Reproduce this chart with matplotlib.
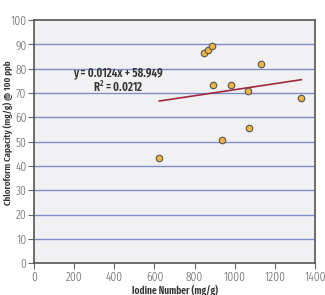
import numpy as np
import matplotlib.pyplot as plt

# data
iodine = [624, 847, 868, 885, 890, 937, 981, 1065, 1070, 1131, 1332]
capacity = [43.2, 86.5, 87.6, 89.3, 73.3, 50.6, 73.3, 70.9, 55.7, 81.8, 68.0]
slope = 0.0124
intercept = 58.949
fit_label = "y = 0.0124x + 58.949\nR$^2$ = 0.0212"

plt.rcParams['font.family'] = ['Fira Sans Extra Condensed', 'DejaVu Sans']
plt.rcParams['mathtext.default'] = 'regular'

fig = plt.figure(figsize=(3.25, 2.95), dpi=100)
ax = fig.add_axes([0.105, 0.108, 0.864, 0.824])
ax.set_facecolor('#f1f1f3')

for y in range(10, 100, 10):
    ax.axhline(y, color='#7f8cc8', lw=1.0, zorder=1)

xs = np.array([min(iodine), max(iodine)])
ax.plot(xs, slope * xs + intercept, color='#a0283c', lw=1.2, zorder=2)
ax.scatter(iodine, capacity, s=22, color='#f0b63c', edgecolor='#555555',
           linewidth=0.8, zorder=3)

ax.text(419, 75, fit_label, ha='center', va='center', fontsize=8.5,
        fontweight=600, color='#333333', linespacing=1.05)

ax.set_xlim(0, 1400)
ax.set_ylim(0, 100)
ax.set_xticks(range(0, 1401, 200))
ax.set_yticks(range(0, 101, 10))
ax.tick_params(labelsize=9, colors='#666666', length=4, width=0.8, pad=1.5)
for lab in ax.get_xticklabels() + ax.get_yticklabels():
    lab.set_fontweight(300)
for s in ax.spines.values():
    s.set_color('#555555')
    s.set_linewidth(1.2)

ax.set_xlabel('Iodine Number (mg/g)', fontsize=7.4, fontweight=600,
              color='#333333')
ax.xaxis.set_label_coords(0.5, -0.088)
ax.set_ylabel('Chloroform Capacity (mg/g) @ 100 ppb', fontsize=7,
              fontweight=600, color='#333333')
ax.yaxis.set_label_coords(-0.075, 0.535)

fig.savefig('out.png', dpi=100)
